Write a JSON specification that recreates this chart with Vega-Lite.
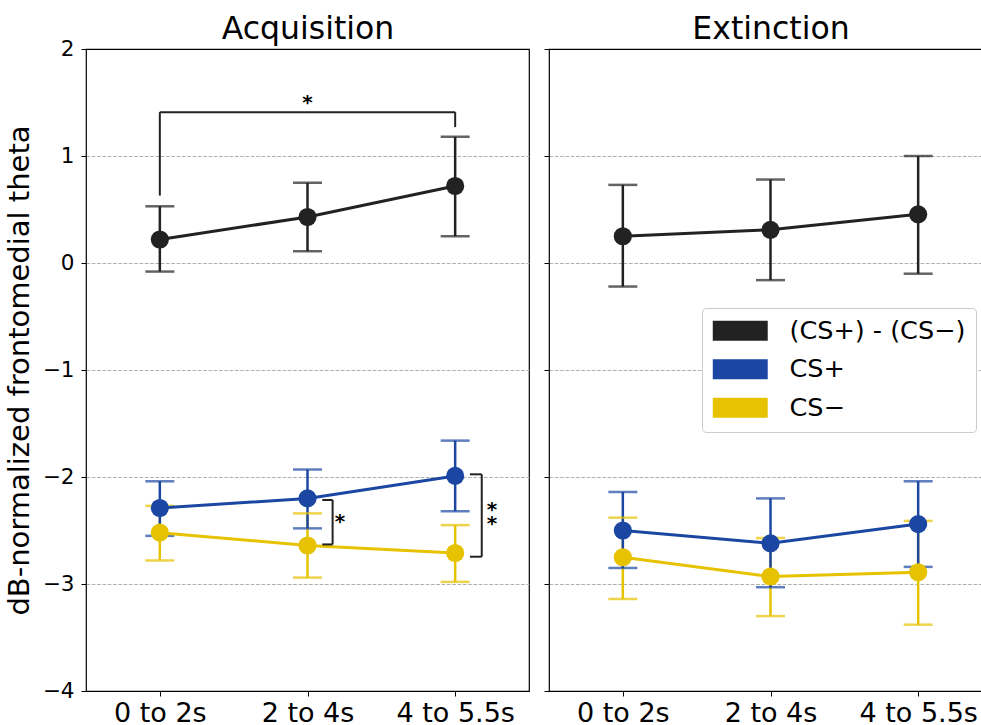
{
  "$schema": "https://vega.github.io/schema/vega-lite/v6.json",
  "autosize": {"type": "pad"},
  "padding": {"left": 4, "top": 12, "right": 0, "bottom": 5},
  "background": "white",
  "spacing": 12,
  "config": {
    "font": "DejaVu Sans",
    "view": {"stroke": "#000000", "strokeWidth": 1.2},
    "axis": {
      "labelFont": "DejaVu Sans",
      "titleFont": "DejaVu Sans",
      "labelColor": "#000000",
      "tickColor": "#000000",
      "tickSize": 5,
      "domain": false
    },
    "legend": {
      "labelFont": "DejaVu Sans",
      "labelFontSize": 25.5,
      "labelColor": "#000000"
    }
  },
  "datasets": {
    "pts": [
      {"phase": "Acquisition", "t": 0, "series": "CS−", "m": -2.52, "lo": -2.78, "hi": -2.27},
      {"phase": "Acquisition", "t": 1, "series": "CS−", "m": -2.64, "lo": -2.94, "hi": -2.34},
      {"phase": "Acquisition", "t": 2, "series": "CS−", "m": -2.71, "lo": -2.98, "hi": -2.45},
      {"phase": "Acquisition", "t": 0, "series": "CS+", "m": -2.29, "lo": -2.55, "hi": -2.04},
      {"phase": "Acquisition", "t": 1, "series": "CS+", "m": -2.20, "lo": -2.48, "hi": -1.93},
      {"phase": "Acquisition", "t": 2, "series": "CS+", "m": -1.99, "lo": -2.32, "hi": -1.66},
      {"phase": "Acquisition", "t": 0, "series": "(CS+) - (CS−)", "m": 0.22, "lo": -0.08, "hi": 0.53},
      {"phase": "Acquisition", "t": 1, "series": "(CS+) - (CS−)", "m": 0.43, "lo": 0.11, "hi": 0.75},
      {"phase": "Acquisition", "t": 2, "series": "(CS+) - (CS−)", "m": 0.72, "lo": 0.25, "hi": 1.18},
      {"phase": "Extinction", "t": 0, "series": "CS−", "m": -2.75, "lo": -3.14, "hi": -2.38},
      {"phase": "Extinction", "t": 1, "series": "CS−", "m": -2.93, "lo": -3.30, "hi": -2.57},
      {"phase": "Extinction", "t": 2, "series": "CS−", "m": -2.89, "lo": -3.38, "hi": -2.41},
      {"phase": "Extinction", "t": 0, "series": "CS+", "m": -2.50, "lo": -2.85, "hi": -2.14},
      {"phase": "Extinction", "t": 1, "series": "CS+", "m": -2.62, "lo": -3.03, "hi": -2.20},
      {"phase": "Extinction", "t": 2, "series": "CS+", "m": -2.44, "lo": -2.84, "hi": -2.04},
      {"phase": "Extinction", "t": 0, "series": "(CS+) - (CS−)", "m": 0.25, "lo": -0.22, "hi": 0.73},
      {"phase": "Extinction", "t": 1, "series": "(CS+) - (CS−)", "m": 0.31, "lo": -0.16, "hi": 0.78},
      {"phase": "Extinction", "t": 2, "series": "(CS+) - (CS−)", "m": 0.455, "lo": -0.10, "hi": 1.0}
    ],
    "brackets": [
      {"x1": 0, "y1": 0.63, "x2": 0, "y2": 1.41},
      {"x1": 0, "y1": 1.41, "x2": 2, "y2": 1.41},
      {"x1": 2, "y1": 1.41, "x2": 2, "y2": 1.27},
      {"x1": 1.10, "y1": -2.215, "x2": 1.17, "y2": -2.215},
      {"x1": 1.17, "y1": -2.215, "x2": 1.17, "y2": -2.63},
      {"x1": 1.17, "y1": -2.63, "x2": 1.10, "y2": -2.63},
      {"x1": 2.10, "y1": -1.975, "x2": 2.18, "y2": -1.975},
      {"x1": 2.18, "y1": -1.975, "x2": 2.18, "y2": -2.745},
      {"x1": 2.18, "y1": -2.745, "x2": 2.10, "y2": -2.745}
    ],
    "stars": [
      {"x": 1.0, "y": 1.5, "label": "*"},
      {"x": 1.22, "y": -2.42, "label": "*"},
      {"x": 2.25, "y": -2.31, "label": "*"},
      {"x": 2.25, "y": -2.44, "label": "*"}
    ]
  },
  "hconcat": [
    {
      "width": 443,
      "height": 642,
      "resolve": {"axis": {"x": "independent"}},
      "layer": [
        {
          "data": {"name": "pts"},
          "transform": [{"filter": "datum.phase === 'Acquisition'"}],
          "mark": {"type": "rule", "strokeWidth": 2.5},
          "encoding": {
            "x": {"field": "t", "type": "quantitative", "scale": {"domain": [-0.5, 2.5], "nice": false, "zero": false},
                  "axis": {"values": [0, 1, 2], "title": null, "grid": false, "labelFontSize": 27, "labelPadding": 4, "labelExpr": "datum.value == 0 ? '0 to 2s' : datum.value == 1 ? '2 to 4s' : '4 to 5.5s'"}},
            "y": {"field": "lo", "type": "quantitative", "scale": {"domain": [-4, 2], "nice": false, "zero": false},
                  "axis": {"values": [-4, -3, -2, -1, 0, 1, 2], "format": "d", "labelFontSize": 21.5, "labelPadding": 7,
                           "title": "dB-normalized frontomedial theta", "titleFontSize": 29, "titleFontWeight": "normal", "titleColor": "#000000", "titlePadding": 8,
                           "grid": true, "gridColor": {"condition": {"test": "datum.value == 2 || datum.value == -4", "value": "transparent"}, "value": "#b0b0b0"}, "gridDash": [3.7, 1.6], "gridWidth": 1}},
            "y2": {"field": "hi"},
            "color": {"field": "series", "type": "nominal"}
          }
        },
        {
          "data": {"name": "pts"},
          "transform": [{"filter": "datum.phase === 'Acquisition'"}],
          "mark": {"type": "tick", "orient": "horizontal", "size": 29, "thickness": 2.5},
          "encoding": {
            "x": {"field": "t", "type": "quantitative", "axis": null},
            "y": {"field": "lo", "type": "quantitative"},
            "color": {"field": "series", "type": "nominal"}
          }
        },
        {
          "data": {"name": "pts"},
          "transform": [{"filter": "datum.phase === 'Acquisition'"}],
          "mark": {"type": "tick", "orient": "horizontal", "size": 29, "thickness": 2.5},
          "encoding": {
            "x": {"field": "t", "type": "quantitative", "axis": null},
            "y": {"field": "hi", "type": "quantitative"},
            "color": {"field": "series", "type": "nominal"}
          }
        },
        {
          "data": {"name": "pts"},
          "transform": [{"filter": "datum.phase === 'Acquisition'"}],
          "mark": {"type": "line", "strokeWidth": 3},
          "encoding": {
            "x": {"field": "t", "type": "quantitative", "axis": null},
            "y": {"field": "m", "type": "quantitative"},
            "color": {"field": "series", "type": "nominal"}
          }
        },
        {
          "data": {"name": "pts"},
          "transform": [{"filter": "datum.phase === 'Acquisition'"}],
          "mark": {"type": "point", "shape": "circle", "filled": true, "opacity": 1, "size": 330},
          "encoding": {
            "x": {"field": "t", "type": "quantitative", "axis": null},
            "y": {"field": "m", "type": "quantitative"},
            "color": {"field": "series", "type": "nominal",
                      "scale": {"domain": ["(CS+) - (CS−)", "CS+", "CS−"], "range": ["#222222", "#1B47A3", "#E6C200"]},
                      "legend": {"orient": "none", "legendX": 616, "legendY": 259, "title": null,
                                 "symbolType": "M-2.29,-0.83H2.29V0.83H-2.29Z", "symbolSize": 576, "symbolOffset": 15.5, "symbolStrokeWidth": 0, "symbolOpacity": 1,
                                 "labelOffset": 36.5, "labelLimit": 400, "rowPadding": 11.5, "padding": 10,
                                 "strokeColor": "#cccccc", "fillColor": "#ffffff", "cornerRadius": 4,
                                 "encode": {"symbols": {"update": {"opacity": {"value": 1}, "fillOpacity": {"value": 1}, "strokeWidth": {"value": 0}}}}}}
          }
        },
        {
          "data": {"name": "brackets"},
          "mark": {"type": "rule", "color": "#222222", "strokeWidth": 2},
          "encoding": {
            "x": {"field": "x1", "type": "quantitative", "axis": {"orient": "top", "title": "Acquisition", "titleFontSize": 31.5, "titleFontWeight": "normal", "titleColor": "#000000", "titlePadding": 4, "labels": false, "ticks": false, "grid": false, "domain": false}},
            "y": {"field": "y1", "type": "quantitative"},
            "x2": {"field": "x2"},
            "y2": {"field": "y2"}
          }
        },
        {
          "data": {"name": "stars"},
          "mark": {"type": "text", "fontSize": 20, "fontWeight": "bold", "color": "#000000", "baseline": "middle", "align": "center"},
          "encoding": {
            "x": {"field": "x", "type": "quantitative", "axis": null},
            "y": {"field": "y", "type": "quantitative"},
            "text": {"field": "label"}
          }
        }
      ]
    },
    {
      "width": 443,
      "height": 642,
      "resolve": {"axis": {"x": "independent"}},
      "layer": [
        {
          "data": {"name": "pts"},
          "transform": [{"filter": "datum.phase === 'Extinction'"}],
          "mark": {"type": "rule", "strokeWidth": 2.5},
          "encoding": {
            "x": {"field": "t", "type": "quantitative", "scale": {"domain": [-0.5, 2.5], "nice": false, "zero": false},
                  "axis": {"values": [0, 1, 2], "title": null, "grid": false, "labelFontSize": 27, "labelPadding": 4, "labelExpr": "datum.value == 0 ? '0 to 2s' : datum.value == 1 ? '2 to 4s' : '4 to 5.5s'"}},
            "y": {"field": "lo", "type": "quantitative", "scale": {"domain": [-4, 2], "nice": false, "zero": false},
                  "axis": {"values": [-4, -3, -2, -1, 0, 1, 2], "title": null, "labels": false,
                           "grid": true, "gridColor": {"condition": {"test": "datum.value == 2 || datum.value == -4", "value": "transparent"}, "value": "#b0b0b0"}, "gridDash": [3.7, 1.6], "gridWidth": 1}},
            "y2": {"field": "hi"},
            "color": {"field": "series", "type": "nominal"}
          }
        },
        {
          "data": {"name": "pts"},
          "transform": [{"filter": "datum.phase === 'Extinction'"}],
          "mark": {"type": "tick", "orient": "horizontal", "size": 29, "thickness": 2.5},
          "encoding": {
            "x": {"field": "t", "type": "quantitative", "axis": null},
            "y": {"field": "lo", "type": "quantitative"},
            "color": {"field": "series", "type": "nominal"}
          }
        },
        {
          "data": {"name": "pts"},
          "transform": [{"filter": "datum.phase === 'Extinction'"}],
          "mark": {"type": "tick", "orient": "horizontal", "size": 29, "thickness": 2.5},
          "encoding": {
            "x": {"field": "t", "type": "quantitative", "axis": null},
            "y": {"field": "hi", "type": "quantitative"},
            "color": {"field": "series", "type": "nominal"}
          }
        },
        {
          "data": {"name": "pts"},
          "transform": [{"filter": "datum.phase === 'Extinction'"}],
          "mark": {"type": "line", "strokeWidth": 3},
          "encoding": {
            "x": {"field": "t", "type": "quantitative", "axis": null},
            "y": {"field": "m", "type": "quantitative"},
            "color": {"field": "series", "type": "nominal"}
          }
        },
        {
          "data": {"name": "pts"},
          "transform": [{"filter": "datum.phase === 'Extinction'"}],
          "mark": {"type": "point", "shape": "circle", "filled": true, "opacity": 1, "size": 330},
          "encoding": {
            "x": {"field": "t", "type": "quantitative", "axis": {"orient": "top", "title": "Extinction", "titleFontSize": 31.5, "titleFontWeight": "normal", "titleColor": "#000000", "titlePadding": 4, "labels": false, "ticks": false, "grid": false, "domain": false}},
            "y": {"field": "m", "type": "quantitative"},
            "color": {"field": "series", "type": "nominal"}
          }
        }
      ]
    }
  ]
}
